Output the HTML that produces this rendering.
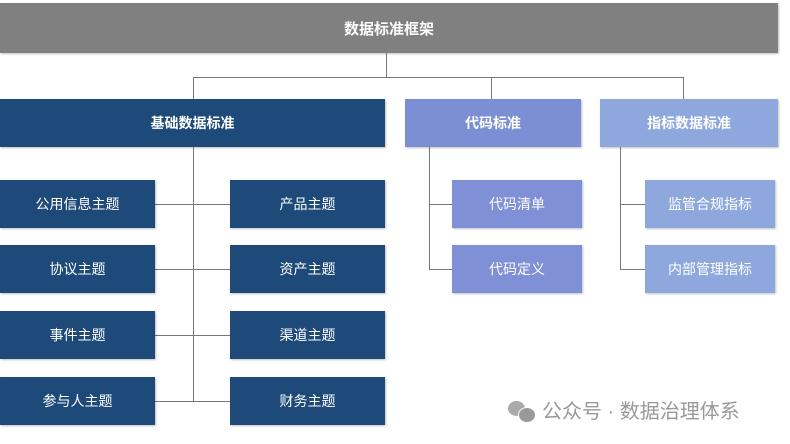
<!DOCTYPE html>
<html><head><meta charset="utf-8"><style>
body{margin:0;width:790px;height:444px;background:#fff;position:relative;overflow:hidden;font-family:"Liberation Sans","Noto Sans CJK SC",sans-serif}
.b{position:absolute;display:flex;align-items:center;justify-content:center;color:#fff;font-size:14px;font-weight:bold;box-shadow:1px 1px 2px rgba(0,0,0,.25)}
.n{background:#1d4a78}
.l{position:absolute;background:#777}
</style></head><body>
<div class="b" style="left:0;top:3px;width:778px;height:50px;background:#808080;font-size:15px">数据标准框架</div>
<div class="l" style="left:386px;top:53px;width:1px;height:24px"></div>
<div class="l" style="left:193px;top:77px;width:490px;height:1px"></div>
<div class="l" style="left:193px;top:77px;width:1px;height:22px"></div>
<div class="l" style="left:491px;top:77px;width:1px;height:22px"></div>
<div class="l" style="left:683px;top:77px;width:1px;height:22px"></div>
<div class="b n" style="left:0;top:99px;width:385px;height:48px">基础数据标准</div>
<div class="b" style="left:405px;top:99px;width:176px;height:48px;background:#7d8fd4">代码标准</div>
<div class="b" style="left:600px;top:99px;width:178px;height:48px;background:#8ea8dd">指标数据标准</div>
<div class="l" style="left:193px;top:147px;width:1px;height:255px"></div>
<div class="l" style="left:155px;top:204px;width:75px;height:1px"></div>
<div class="l" style="left:155px;top:269px;width:75px;height:1px"></div>
<div class="l" style="left:155px;top:335px;width:75px;height:1px"></div>
<div class="l" style="left:155px;top:401px;width:75px;height:1px"></div>
<div class="b n" style="left:0;top:180px;width:155px;height:48px;font-weight:normal">公用信息主题</div>
<div class="b n" style="left:0;top:245px;width:155px;height:48px;font-weight:normal">协议主题</div>
<div class="b n" style="left:0;top:311px;width:155px;height:48px;font-weight:normal">事件主题</div>
<div class="b n" style="left:0;top:377px;width:155px;height:48px;font-weight:normal">参与人主题</div>
<div class="b n" style="left:230px;top:180px;width:155px;height:48px;font-weight:normal">产品主题</div>
<div class="b n" style="left:230px;top:245px;width:155px;height:48px;font-weight:normal">资产主题</div>
<div class="b n" style="left:230px;top:311px;width:155px;height:48px;font-weight:normal">渠道主题</div>
<div class="b n" style="left:230px;top:377px;width:155px;height:48px;font-weight:normal">财务主题</div>
<div class="l" style="left:429px;top:147px;width:1px;height:123px"></div>
<div class="l" style="left:429px;top:204px;width:23px;height:1px"></div>
<div class="l" style="left:429px;top:269px;width:23px;height:1px"></div>
<div class="b" style="left:452px;top:180px;width:130px;height:48px;background:#7f90d6;font-weight:normal">代码清单</div>
<div class="b" style="left:452px;top:245px;width:130px;height:48px;background:#7f90d6;font-weight:normal">代码定义</div>
<div class="l" style="left:620px;top:147px;width:1px;height:123px"></div>
<div class="l" style="left:620px;top:204px;width:25px;height:1px"></div>
<div class="l" style="left:620px;top:269px;width:25px;height:1px"></div>
<div class="b" style="left:645px;top:180px;width:130px;height:48px;background:#8ea8dd;font-weight:normal">监管合规指标</div>
<div class="b" style="left:645px;top:245px;width:130px;height:48px;background:#8ea8dd;font-weight:normal">内部管理指标</div>
<div style="position:absolute;left:508px;top:398px;font-size:20px;line-height:28px;color:#999;display:flex;align-items:center;gap:6px;white-space:nowrap"><span style="display:inline-block;width:28px;height:22px;position:relative"><span style="position:absolute;left:0;top:0;width:17px;height:15px;border-radius:50%;background:#aaa"></span><span style="position:absolute;left:10px;top:6px;width:16px;height:14px;border-radius:50%;background:#999;border:1px solid #fff"></span></span>公众号 · 数据治理体系</div>
</body></html>
